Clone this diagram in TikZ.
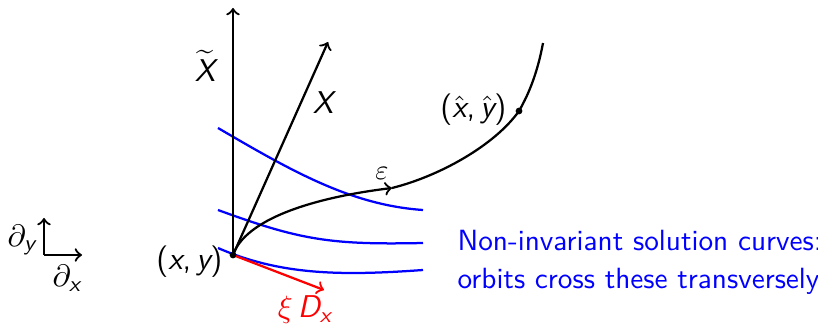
\documentclass[tikz,border=0pt]{standalone}
\usepackage{amsmath}
\usetikzlibrary{positioning,arrows}
% sans slanted letters for the labels
\newcommand{\sv}[1]{\text{\sffamily\slshape #1}}
\tikzset{
  axis/.style={thick,draw=black,->},
  orbit/.style={thick,draw=black},
  solcurve/.style={thick,draw=blue},
  tangent/.style={thick,draw=red,->},
  pt/.style={fill=black},
  lab/.style={inner sep=0,font=\fontsize{11.2}{13}\selectfont\sffamily}
}
\begin{document}
\begin{tikzpicture}[x=0.0125cm,y=-0.0125cm,font=\fontsize{10.4}{12.5}\selectfont\sffamily]
    \useasboundingbox (0,0) rectangle (818,329);
    % frame at the left
    \coordinate (c0) at (44,255);
    \coordinate (cy) at (44,218);
    \coordinate (cx) at (82,255);
    \node[lab] (dy) at (22,240) {$\partial_{\sv{y}}$};
    \node[lab] (dx) at (67,278) {$\partial_{\sv{x}}$};
    \draw[axis] (c0) -- (cy);
    \draw[axis] (c0) -- (cx);

    % base point and vectors
    \coordinate (o) at (233,255);
    \coordinate (xt) at (233,8);
    \coordinate (xv) at (328,42);
    \coordinate (dv) at (324,290);
    \node[lab,anchor=east] (olab) at (223,262) {(\sv{x},\,\sv{y})};
    \node[lab] (xtlab) at (205,66) {$\widetilde{\sv{X}}$};
    \node[lab] (xvlab) at (323,103) {\sv{X}};
    \node[lab,red] (dvlab) at (305,310) {$\xi\,\sv{D}_{\sv{x}}$};

    % solution curves
    \draw[solcurve] (218,128) .. controls (290,170) and (350,205) .. (423,210);
    \draw[solcurve] (218,210) .. controls (300,240) and (330,245) .. (423,243);
    \draw[solcurve] (218,248) .. controls (280,275) and (340,276) .. (423,270);

    \draw[axis] (o) -- (xt);
    \draw[axis] (o) -- (xv);
    \draw[tangent] (o) -- (dv);

    % the orbit through (x,y)
    \coordinate (e) at (392,188);
    \node[inner sep=0] (elab) at (382,173) {$\varepsilon$};
    \coordinate (h) at (519,111);
    \coordinate (top) at (543,43);
    \draw[orbit,->] (o) .. controls (245,220) and (310,198) .. (e);
    \draw[orbit] (e) .. controls (440,176) and (495,145) .. (h)
      .. controls (530,92) and (538,70) .. (top);
    \node[lab,anchor=east] (hlab) at (507,110) {($\hat{\sv{x}}$,\,$\hat{\sv{y}}$)};

    \fill[pt] (o) circle (1.2pt);
    \fill[pt] (h) circle (1.2pt);

    \node[blue,anchor=west,inner sep=0] (t1) at (457,241) {Non-invariant solution curves:};
    \node[blue,anchor=west,inner sep=0] (t2) at (457,281) {orbits cross these transversely};
\end{tikzpicture}
\end{document}
